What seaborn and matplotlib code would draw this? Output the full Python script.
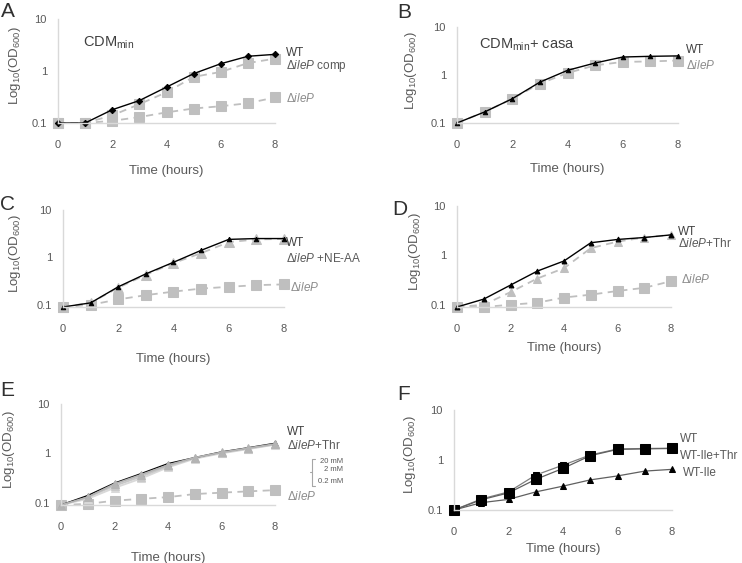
import matplotlib
matplotlib.use("Agg")
import matplotlib.pyplot as plt
from matplotlib.ticker import FixedLocator, FixedFormatter, NullLocator
import seaborn as sns

# --- data (OD600 vs time) ---
hours = [0, 1, 2, 3, 4, 5, 6, 7, 8]

a_wt = [0.10, 0.10, 0.18, 0.27, 0.49, 0.89, 1.38, 1.92, 2.09]
a_comp = [0.10, 0.10, 0.14, 0.23, 0.39, 0.77, 0.96, 1.42, 1.73]
a_ileP = [0.10, 0.10, 0.11, 0.13, 0.16, 0.19, 0.21, 0.24, 0.31]

b_wt = [0.10, 0.17, 0.32, 0.71, 1.25, 1.78, 2.37, 2.45, 2.50]
b_ileP = [0.10, 0.17, 0.32, 0.66, 1.10, 1.59, 1.87, 1.92, 2.00]

c_wt = [0.09, 0.11, 0.24, 0.45, 0.79, 1.41, 2.40, 2.50, 2.50]
c_neaa = [0.09, 0.11, 0.23, 0.43, 0.76, 1.23, 2.10, 2.40, 2.45]
c_ileP = [0.09, 0.10, 0.13, 0.16, 0.19, 0.22, 0.24, 0.26, 0.27]

d_wt = [0.09, 0.13, 0.25, 0.48, 0.77, 1.80, 2.10, 2.30, 2.60]
d_thr = [0.09, 0.10, 0.18, 0.34, 0.55, 1.40, 1.90, 2.30, 2.60]
d_ileP = [0.09, 0.09, 0.10, 0.11, 0.14, 0.16, 0.19, 0.22, 0.30]

e_wt = [0.09, 0.14, 0.25, 0.39, 0.62, 0.82, 1.07, 1.30, 1.60]
e_thr20 = [0.09, 0.13, 0.24, 0.37, 0.58, 0.82, 1.05, 1.28, 1.55]
e_thr2 = [0.09, 0.13, 0.22, 0.34, 0.55, 0.80, 1.03, 1.25, 1.52]
e_thr02 = [0.09, 0.12, 0.20, 0.31, 0.52, 0.78, 1.00, 1.22, 1.50]
e_ileP = [0.09, 0.095, 0.11, 0.12, 0.13, 0.15, 0.16, 0.17, 0.18]

f_wt = [0.10, 0.166, 0.23, 0.50, 0.79, 1.26, 1.66, 1.70, 1.72]
f_thr = [0.10, 0.16, 0.22, 0.41, 0.68, 1.22, 1.63, 1.67, 1.70]
f_ile = [0.10, 0.14, 0.163, 0.23, 0.30, 0.40, 0.48, 0.60, 0.65]

x_ticks = [0, 2, 4, 6, 8]
y_ticks = [0.1, 1, 10]
y_ticklabels = ["0.1", "1", "10"]

W, H = 742, 563
GRAY = "#bfbfbf"
SPINE = "#d9d9d9"
TXT = "#404040"
TICK_TXT = "#595959"
DASH = (0, (4, 3))

sns.set_style("white")
plt.rcParams["font.family"] = ["Liberation Sans", "DejaVu Sans"]
plt.rcParams["mathtext.fontset"] = "custom"
plt.rcParams["mathtext.rm"] = "Liberation Sans"
plt.rcParams["mathtext.it"] = "Liberation Sans:italic"

fig = plt.figure(figsize=(W / 100, H / 100), dpi=100)


def make_axes(l, t, r, b):
    return fig.add_axes([l / W, 1 - b / H, (r - l) / W, (b - t) / H])


def series(ax, y, color, marker, ms, ls="-", lw=1.0, lcolor=None):
    sns.lineplot(x=hours, y=y, ax=ax, color=lcolor or color, marker=marker,
                 markersize=ms, markerfacecolor=color, markeredgecolor=color,
                 linestyle=ls, linewidth=lw, legend=False, clip_on=False)


def style_axes(ax, ymin, xl, yl):
    ax.set_yscale("log")
    ax.set_xlim(0, 8)
    ax.set_ylim(ymin, 10)
    ax.xaxis.set_major_locator(FixedLocator(x_ticks))
    ax.yaxis.set_major_locator(FixedLocator(y_ticks))
    ax.yaxis.set_major_formatter(FixedFormatter(y_ticklabels))
    ax.yaxis.set_minor_locator(NullLocator())
    for s in ["top", "right"]:
        ax.spines[s].set_visible(False)
    for s in ["left", "bottom"]:
        ax.spines[s].set_color(SPINE)
        ax.spines[s].set_linewidth(1.0)
    ax.tick_params(axis="both", length=3, color=SPINE, direction="out",
                   labelsize=8, labelcolor=TICK_TXT)
    ax.tick_params(axis="x", pad=9)
    ax.tick_params(axis="y", pad=5)
    ax.set_xlabel("Time (hours)", fontsize=9.5, color=TICK_TXT)
    ax.set_ylabel(r"Log$_{10}$(OD$_{600}$)", fontsize=9.5, color=TICK_TXT)
    ax.xaxis.set_label_coords(0.5, xl)
    ax.yaxis.set_label_coords(yl, 0.55)


def label(ax, x, y, s, color=TICK_TXT, size=8.5):
    ax.text(x, y, s, transform=ax.transAxes, fontsize=size, color=color,
            ha="left", va="center")


def letter(x, y, s):
    fig.text(x / W, 1 - y / H, s, fontsize=15, color="#303030", ha="left", va="top")


dileP = r"$\Delta$$\mathit{ileP}$"

# --- A ---
ax = make_axes(58, 19, 275, 123)
series(ax, a_ileP, GRAY, "s", 6.5, ls=DASH, lw=1.3)
series(ax, a_comp, GRAY, "s", 6.5, ls=DASH, lw=1.3)
series(ax, a_wt, "black", "D", 3.2, lw=1.0)
style_axes(ax, 0.1, -0.40, -0.16)
ax.text(0.115, 0.77, r"CDM$_{\mathregular{min}}$", transform=ax.transAxes,
        fontsize=10.5, color=TXT, va="center")
label(ax, 1.05, 0.675, "WT", color=TXT)
label(ax, 1.05, 0.55, dileP + " comp")
label(ax, 1.05, 0.24, dileP, color="#8c8c8c")
letter(1, 2, "A")

# --- B ---
ax = make_axes(457, 27, 678, 123)
series(ax, b_ileP, GRAY, "s", 6.5, ls=DASH, lw=1.3)
series(ax, b_wt, "black", "^", 3.2, lw=1.0)
style_axes(ax, 0.1, -0.42, -0.172)
ax.text(0.10, 0.81, r"CDM$_{\mathregular{min}}$+ casa", transform=ax.transAxes,
        fontsize=10.5, color=TXT, va="center")
label(ax, 1.036, 0.76, "WT", color=TXT)
label(ax, 1.036, 0.604, dileP, color="#8c8c8c")
letter(397, 3, "B")

# --- C ---
ax = make_axes(63, 210, 284, 307)
series(ax, c_ileP, GRAY, "s", 6.5, ls=DASH, lw=1.3)
series(ax, c_neaa, GRAY, "^", 6.5, ls=DASH, lw=1.3)
series(ax, c_wt, "black", "^", 3.2, lw=1.0)
style_axes(ax, 0.09, -0.47, -0.18)
label(ax, 1.009, 0.66, "WT", color=TXT)
label(ax, 1.009, 0.505, dileP + " +NE-AA")
label(ax, 1.027, 0.206, dileP, color="#8c8c8c")
letter(0, 195, "C")

# --- D ---
ax = make_axes(457, 206, 671, 307)
series(ax, d_ileP, GRAY, "s", 6.5, ls=DASH, lw=1.3)
series(ax, d_thr, GRAY, "^", 6.0, ls=DASH, lw=1.3)
series(ax, d_wt, "black", "^", 3.5, lw=1.0)
style_axes(ax, 0.09, -0.35, -0.159)
label(ax, 1.033, 0.743, "WT", color=TXT)
label(ax, 1.033, 0.624, dileP + "+Thr")
label(ax, 1.047, 0.277, dileP, color="#8c8c8c")
letter(392, 200, "D")

# --- E ---
ax = make_axes(61, 404, 275, 505)
series(ax, e_ileP, GRAY, "s", 6.5, ls=DASH, lw=1.3)
series(ax, e_thr02, "#d9d9d9", "^", 6.0, lw=1.3)
series(ax, e_thr2, "#c8c8c8", "^", 6.0, lw=1.3)
series(ax, e_wt, "black", "^", 3.5, lw=1.0)
series(ax, e_thr20, "#b4b4b4", "^", 6.0, lw=1.3)
style_axes(ax, 0.09, -0.47, -0.205)
label(ax, 1.056, 0.72, "WT", color=TXT)
label(ax, 1.056, 0.594, dileP + "+Thr")
label(ax, 1.056, 0.08, dileP, color="#8c8c8c")
# bracket for the Thr concentrations
ax.plot([1.185, 1.173, 1.173, 1.185], [0.46, 0.46, 0.19, 0.19],
        transform=ax.transAxes, color="#a6a6a6", lw=0.8, clip_on=False)
ax.plot([1.173, 1.162], [0.327, 0.327], transform=ax.transAxes,
        color="#a6a6a6", lw=0.8, clip_on=False)
for yy, s in zip([0.426, 0.347, 0.228], ["20 mM", "2 mM", "0.2 mM"]):
    ax.text(1.318, yy, s, transform=ax.transAxes, fontsize=5.5,
            color=TICK_TXT, ha="right", va="center")
letter(0, 381, "E")

# --- F ---
ax = make_axes(454, 410, 672, 510)
series(ax, f_ile, "black", "^", 5.0, lw=0.9, lcolor="#606060")
series(ax, f_wt, "black", "s", 5.0, lw=0.9, lcolor="#808080")
series(ax, f_thr, "black", "s", 7.0, lw=0.9, lcolor="#606060")
style_axes(ax, 0.1, -0.33, -0.165)
label(ax, 1.037, 0.71, "WT")
label(ax, 1.037, 0.54, "WT-Ile+Thr")
label(ax, 1.05, 0.37, "WT-Ile")
letter(397, 385, "F")

fig.savefig("out.png", dpi=100)
